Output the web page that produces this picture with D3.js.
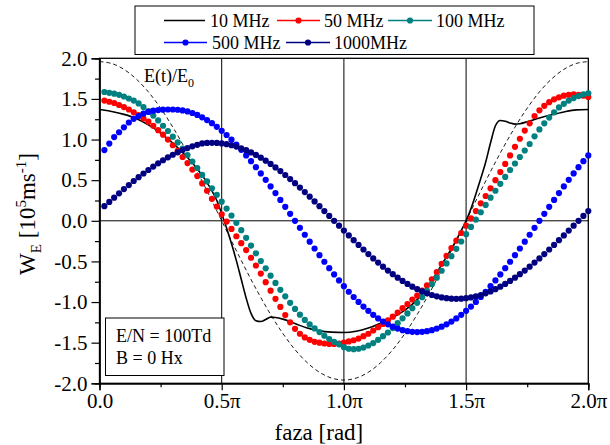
<!DOCTYPE html>
<html><head><meta charset="utf-8">
<script src="https://cdn.jsdelivr.net/npm/d3@7"></script>
<style>
body{margin:0;background:#fff}
svg{display:block}
</style>
</head><body>
<svg id="c" width="610" height="445"></svg>
<script>
// ---------------- data ----------------
const seriesNames = ["10 MHz", "50 MHz", "100 MHz", "500 MHz", "1000MHz"];
const seriesColors = ["#000000", "#ff0000", "#008080", "#0000ff", "#000080"];

// phase (in units of pi) of the dotted series, every 0.02 pi
const dotPhase = d3.range(1, 101).map(i => i * 0.02);

const w50 = [
 1.48, 1.465, 1.45, 1.425, 1.40, 1.37, 1.335, 1.30, 1.26, 1.22,
 1.17, 1.115, 1.06, 1.00, 0.93, 0.86, 0.785, 0.71, 0.63, 0.55,
 0.46, 0.37, 0.27, 0.175, 0.08, -0.01, -0.10, -0.19, -0.275, -0.36,
 -0.455, -0.55, -0.65, -0.755, -0.86, -0.96, -1.06, -1.16, -1.25, -1.33,
 -1.39, -1.435, -1.465, -1.49, -1.50, -1.51, -1.515, -1.515, -1.51, -1.50,
 -1.485, -1.47, -1.45, -1.42, -1.39, -1.35, -1.31, -1.27, -1.225, -1.18,
 -1.13, -1.075, -1.025, -0.97, -0.92, -0.86, -0.795, -0.72, -0.63, -0.53,
 -0.43, -0.335, -0.245, -0.15, -0.06, 0.03, 0.12, 0.215, 0.305, 0.40,
 0.50, 0.60, 0.70, 0.805, 0.91, 1.01, 1.11, 1.20, 1.29, 1.36,
 1.415, 1.46, 1.495, 1.52, 1.54, 1.55, 1.555, 1.55, 1.54, 1.525];

const w100 = [
 1.585, 1.575, 1.565, 1.55, 1.53, 1.505, 1.48, 1.445, 1.40, 1.35,
 1.295, 1.235, 1.17, 1.105, 1.035, 0.965, 0.89, 0.81, 0.73, 0.65,
 0.565, 0.485, 0.40, 0.32, 0.235, 0.15, 0.065, -0.025, -0.115, -0.21,
 -0.305, -0.40, -0.495, -0.585, -0.675, -0.765, -0.85, -0.93, -1.01, -1.085,
 -1.155, -1.22, -1.275, -1.325, -1.37, -1.415, -1.455, -1.49, -1.52, -1.555,
 -1.575, -1.58, -1.575, -1.56, -1.535, -1.505, -1.465, -1.42, -1.375, -1.32,
 -1.26, -1.20, -1.14, -1.075, -1.01, -0.94, -0.86, -0.78, -0.70, -0.615,
 -0.525, -0.435, -0.345, -0.255, -0.165, -0.075, 0.015, 0.105, 0.195, 0.285,
 0.37, 0.455, 0.54, 0.625, 0.705, 0.785, 0.865, 0.945, 1.04, 1.125,
 1.20, 1.27, 1.335, 1.395, 1.44, 1.48, 1.51, 1.535, 1.555, 1.57];

const w500 = [
 0.87, 0.95, 1.03, 1.09, 1.15, 1.21, 1.255, 1.29, 1.32, 1.34,
 1.355, 1.363, 1.368, 1.37, 1.37, 1.367, 1.359, 1.346, 1.327, 1.303,
 1.274, 1.240, 1.201, 1.157, 1.108, 1.056, 0.999, 0.938, 0.873, 0.805,
 0.734, 0.660, 0.583, 0.504, 0.423, 0.341, 0.257, 0.172, 0.086, 0.0,
 -0.086, -0.172, -0.257, -0.341, -0.423, -0.504, -0.583, -0.660, -0.734, -0.805,
 -0.873, -0.938, -0.999, -1.056, -1.108, -1.157, -1.201, -1.240, -1.274, -1.303,
 -1.327, -1.346, -1.359, -1.367, -1.370, -1.367, -1.359, -1.346, -1.327, -1.303,
 -1.274, -1.240, -1.201, -1.157, -1.108, -1.056, -0.999, -0.938, -0.873, -0.805,
 -0.734, -0.660, -0.583, -0.504, -0.423, -0.341, -0.257, -0.172, -0.086, 0.0,
 0.086, 0.172, 0.257, 0.341, 0.423, 0.504, 0.583, 0.660, 0.734, 0.805];

const w1000 = [
 0.180, 0.232, 0.285, 0.338, 0.390, 0.440, 0.490, 0.537, 0.582, 0.625,
 0.667, 0.707, 0.745, 0.781, 0.813, 0.843, 0.870, 0.895, 0.917, 0.935,
 0.952, 0.958, 0.960, 0.958, 0.952, 0.943, 0.930, 0.913, 0.893, 0.869,
 0.841, 0.811, 0.777, 0.740, 0.700, 0.657, 0.612, 0.564, 0.514, 0.463,
 0.409, 0.353, 0.297, 0.239, 0.180, 0.120, 0.060, 0.0, -0.060, -0.120,
 -0.180, -0.239, -0.297, -0.353, -0.409, -0.463, -0.514, -0.564, -0.612, -0.657,
 -0.700, -0.740, -0.777, -0.811, -0.841, -0.869, -0.893, -0.913, -0.930, -0.943,
 -0.952, -0.958, -0.960, -0.958, -0.952, -0.943, -0.930, -0.913, -0.893, -0.869,
 -0.841, -0.811, -0.777, -0.740, -0.700, -0.657, -0.612, -0.564, -0.514, -0.463,
 -0.409, -0.353, -0.297, -0.239, -0.180, -0.120, -0.060, 0.0, 0.060, 0.120];

// 10 MHz solid line
const w10Phase = [0, 0.05, 0.10, 0.15, 0.20, 0.25, 0.30, 0.35, 0.40, 0.45, 0.48, 0.50, 0.52, 0.54, 0.56, 0.58,
 0.60, 0.62, 0.64, 0.66, 0.68, 0.70, 0.72, 0.75, 0.80, 0.85, 0.90, 0.95, 1.00, 1.05, 1.10, 1.15, 1.20,
 1.25, 1.30, 1.35, 1.40, 1.45, 1.48, 1.50, 1.52, 1.54, 1.56, 1.58, 1.60, 1.62, 1.64, 1.66, 1.68, 1.70,
 1.72, 1.75, 1.80, 1.85, 1.90, 1.95, 2.00];
const w10 = [1.37, 1.345, 1.31, 1.26, 1.18, 1.08, 0.955, 0.81, 0.64, 0.42, 0.25, 0.09, -0.09, -0.28, -0.49, -0.72,
 -0.95, -1.14, -1.23, -1.24, -1.215, -1.185, -1.19, -1.21, -1.265, -1.32, -1.355, -1.37, -1.375, -1.36, -1.32, -1.26, -1.19,
 -1.10, -0.97, -0.78, -0.54, -0.29, -0.12, 0.0, 0.15, 0.33, 0.52, 0.72, 0.96, 1.17, 1.235, 1.225, 1.205, 1.19,
 1.195, 1.22, 1.265, 1.305, 1.34, 1.365, 1.37];

// E(t)/E0 dashed reference
const ePhase = d3.range(0, 41).map(i => i * 0.05);
const eField = [1.960, 1.936, 1.864, 1.746, 1.586, 1.386, 1.152, 0.890, 0.606, 0.307, 0.0,
 -0.307, -0.606, -0.890, -1.152, -1.386, -1.586, -1.746, -1.864, -1.936, -1.960,
 -1.936, -1.864, -1.746, -1.586, -1.386, -1.152, -0.890, -0.606, -0.307, 0.0,
 0.307, 0.606, 0.890, 1.152, 1.386, 1.586, 1.746, 1.864, 1.936, 1.960];

const xTicks = [0, 0.5, 1, 1.5, 2];
const xTickLabels = ["0.0", "0.5\u03c0", "1.0\u03c0", "1.5\u03c0", "2.0\u03c0"];
const xMinor = [0.25, 0.75, 1.25, 1.75];
const yTicks = [-2, -1.5, -1, -0.5, 0, 0.5, 1, 1.5, 2];
const yTickLabels = ["-2.0", "-1.5", "-1.0", "-0.5", "0.0", "0.5", "1.0", "1.5", "2.0"];
const yMinor = [-1.75, -1.25, -0.75, -0.25, 0.25, 0.75, 1.25, 1.75];

// ---------------- drawing ----------------
const FONT = "'Liberation Serif', 'Times New Roman', serif";
const svg = d3.select("#c");
const x = d3.scaleLinear().domain([0, 2]).range([99.5, 588.3]);
const y = d3.scaleLinear().domain([-2, 2]).range([383.3, 58.3]);

function label(sel, size) {
  return sel.style("font-family", FONT).style("font-size", size + "px").style("fill", "#000");
}

// grid lines
const grid = svg.append("g").attr("stroke", "#000").attr("stroke-width", 1);
[0.5, 1, 1.5].forEach(v => grid.append("line").attr("x1", x(v)).attr("x2", x(v)).attr("y1", y(2)).attr("y2", y(-2)));
grid.append("line").attr("x1", x(0)).attr("x2", x(2)).attr("y1", y(0)).attr("y2", y(0));

// frame
svg.append("rect").attr("x", x(0)).attr("y", y(2)).attr("width", x(2) - x(0)).attr("height", y(-2) - y(2))
  .attr("fill", "none").attr("stroke", "#000").attr("stroke-width", 1.3);

// axes
const fmtX = d => xTickLabels[xTicks.indexOf(d)];
const fmtY = d => yTickLabels[yTicks.indexOf(d)];
svg.append("g").attr("transform", `translate(0,${y(-2)})`)
  .call(d3.axisBottom(x).tickValues(xTicks).tickFormat(fmtX).tickSize(7).tickPadding(3));
svg.append("g").attr("transform", `translate(0,${y(-2)})`)
  .call(d3.axisBottom(x).tickValues(xMinor).tickFormat("").tickSize(4));
svg.append("g").attr("transform", `translate(${x(0)},0)`)
  .call(d3.axisLeft(y).tickValues(yTicks).tickFormat(fmtY).tickSize(8).tickPadding(4));
svg.append("g").attr("transform", `translate(${x(0)},0)`)
  .call(d3.axisLeft(y).tickValues(yMinor).tickFormat("").tickSize(4.5));
svg.selectAll(".domain").attr("stroke", "#000").attr("stroke-width", 1.3);
svg.selectAll(".tick line").attr("stroke", "#000").attr("stroke-width", 1.2);
label(svg.selectAll(".tick text"), 21);

// dashed field line
const lineE = d3.line().x((d, i) => x(ePhase[i])).y(d => y(d)).curve(d3.curveCatmullRom);
svg.append("path").attr("d", lineE(eField)).attr("fill", "none").attr("stroke", "#000")
  .attr("stroke-width", 0.9).attr("stroke-dasharray", "4,3");

// 10 MHz solid line
const line10 = d3.line().x((d, i) => x(w10Phase[i])).y(d => y(d)).curve(d3.curveMonotoneX);
svg.append("path").attr("d", line10(w10)).attr("fill", "none").attr("stroke", seriesColors[0]).attr("stroke-width", 1.6);

// dotted series
[w50, w100, w500, w1000].forEach((vals, k) => {
  svg.append("g").selectAll("circle").data(vals).join("circle")
    .attr("cx", (d, i) => x(dotPhase[i])).attr("cy", d => y(d)).attr("r", 3.1)
    .attr("fill", seriesColors[k + 1]);
});

// E(t)/E0 label
const eLab = label(svg.append("text").attr("x", 144).attr("y", 82), 18);
eLab.append("tspan").text("E(t)/E");
eLab.append("tspan").style("font-size", "12px").attr("dy", 5).text("0");

// annotation box
svg.append("rect").attr("x", 105.5).attr("y", 318).attr("width", 118.5).attr("height", 57.5)
  .attr("fill", "#fff").attr("stroke", "#000").attr("stroke-width", 1);
label(svg.append("text").attr("x", 116).attr("y", 341.5), 18).text("E/N = 100Td");
label(svg.append("text").attr("x", 116).attr("y", 364), 18).text("B = 0 Hx");

// legend
svg.append("rect").attr("x", 135).attr("y", 6).attr("width", 399).attr("height", 48.5)
  .attr("fill", "#fff").attr("stroke", "#000").attr("stroke-width", 1);
const legendPos = [
  {lx: 164, rx: 205, tx: 210, cy: 20.5},
  {lx: 277, rx: 320, tx: 324, cy: 20.5},
  {lx: 388, rx: 432, tx: 436, cy: 20.5},
  {lx: 164, rx: 207, tx: 212, cy: 42.5},
  {lx: 286, rx: 330, tx: 334, cy: 42.5}
];
seriesNames.forEach((name, k) => {
  const p = legendPos[k];
  svg.append("line").attr("x1", p.lx).attr("x2", p.rx).attr("y1", p.cy).attr("y2", p.cy)
    .attr("stroke", seriesColors[k]).attr("stroke-width", 1.6);
  if (k > 0) svg.append("circle").attr("cx", (p.lx + p.rx) / 2).attr("cy", p.cy).attr("r", 3.1)
    .attr("fill", seriesColors[k]);
  label(svg.append("text").attr("x", p.tx).attr("y", p.cy + 6.3), 18).text(name);
});

// axis titles
label(svg.append("text").attr("x", x(1) - 25).attr("y", 440).attr("text-anchor", "middle"), 23).text("faza [rad]");
const yt = label(svg.append("text").attr("transform", "translate(35,214) rotate(-90)")
  .attr("text-anchor", "middle"), 23);
yt.append("tspan").text("W");
yt.append("tspan").style("font-size", "15px").attr("dy", 6).text("E");
yt.append("tspan").attr("dy", -6).text(" [10");
yt.append("tspan").style("font-size", "15px").attr("dy", -9).text("5");
yt.append("tspan").attr("dy", 9).text("ms");
yt.append("tspan").style("font-size", "15px").attr("dy", -9).text("-1");
yt.append("tspan").attr("dy", 9).text("]");
</script>
</body></html>
